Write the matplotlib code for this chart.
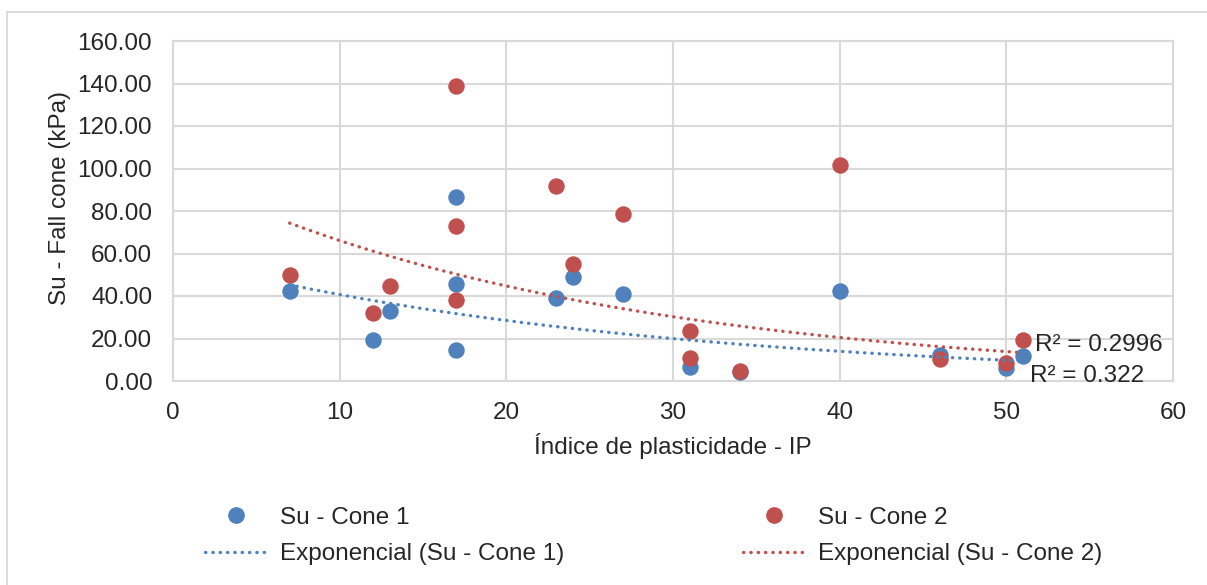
import numpy as np
import matplotlib
matplotlib.use("Agg")
import matplotlib.pyplot as plt
from matplotlib.lines import Line2D
from matplotlib.patches import Rectangle

plt.rcParams["font.family"] = ["Liberation Sans", "DejaVu Sans"]

# Su - Cone 1
ip_cone1 = [7, 12, 13, 17, 17, 17, 23, 24, 27, 31, 34, 40, 46, 50, 51]
su_cone1 = [42.3, 19.4, 33.1, 86.7, 45.6, 14.7, 39.2, 49.0, 40.8, 6.8, 4.2, 42.2, 12.3, 6.2, 11.9]

# Su - Cone 2
ip_cone2 = [7, 12, 13, 17, 17, 17, 23, 24, 27, 31, 31, 34, 40, 46, 50, 51]
su_cone2 = [50.0, 31.9, 44.7, 138.8, 72.9, 38.1, 91.9, 55.0, 78.6, 23.7, 10.6, 4.8, 101.5, 10.5, 8.6, 19.4]

r2_labels = ["R² = 0.2996", "R² = 0.322"]
x_ticks = [0, 10, 20, 30, 40, 50, 60]
y_ticks = [0, 20, 40, 60, 80, 100, 120, 140, 160]

BLUE = "#4F81BD"
RED = "#C0504D"
GRID = "#D9D9D9"
TXT = "#262626"
FS = 17.5


def exp_trend(x, y):
    x = np.asarray(x, float)
    y = np.asarray(y, float)
    b, ln_a = np.polyfit(x, np.log(y), 1)
    xs = np.linspace(x.min(), x.max(), 200)
    return xs, np.exp(ln_a) * np.exp(b * xs)


fig = plt.figure(figsize=(12.07, 5.85), dpi=100)
ax = fig.add_axes([173 / 1207, 1 - 381 / 585, 1000 / 1207, 340 / 585])

# outer chart border
fig.patches.append(Rectangle((7 / 1207, -0.1), 1.2, 1 - 11.5 / 585 + 0.1,
                             transform=fig.transFigure, fill=False,
                             edgecolor=GRID, linewidth=1.3))

ax.scatter(ip_cone1, su_cone1, s=140, color=BLUE, zorder=3, linewidths=0)
ax.scatter(ip_cone2, su_cone2, s=140, color=RED, zorder=3, linewidths=0)

dot = (0, (0.1, 2.1))
TW = 2.4
xs1, ys1 = exp_trend(ip_cone1, su_cone1)
xs2, ys2 = exp_trend(ip_cone2, su_cone2)
ax.plot(xs1, ys1, color=BLUE, lw=TW, linestyle=dot, dash_capstyle="round", zorder=4)
ax.plot(xs2, ys2, color=RED, lw=TW, linestyle=dot, dash_capstyle="round", zorder=4)

ax.text(51.7, 17.0, r2_labels[0], fontsize=FS, va="center", ha="left", color=TXT, zorder=5)
ax.text(51.4, 2.5, r2_labels[1], fontsize=FS, va="center", ha="left", color=TXT, zorder=5)

ax.set_xlim(0, 60)
ax.set_ylim(0, 160)
ax.set_xticks(x_ticks)
ax.set_yticks(y_ticks)
ax.set_yticklabels([f"{v:.2f}" for v in y_ticks])
ax.tick_params(length=0, labelsize=FS, colors=TXT)
ax.tick_params(axis="y", pad=15)
ax.tick_params(axis="x", pad=15)
ax.grid(True, color=GRID, lw=1.5)
ax.set_axisbelow(True)
for sp in ax.spines.values():
    sp.set_color(GRID)
    sp.set_linewidth(1.5)

fig.text(673 / 1207, 1 - 446 / 585, "Índice de plasticidade - IP", fontsize=FS,
         ha="center", va="center", color=TXT)
fig.text(60 / 1207, 1 - 198 / 585, "Su - Fall cone (kPa)", fontsize=FS,
         ha="center", va="center", rotation=90, color=TXT)

# legend, two columns
h1 = [Line2D([], [], marker="o", ls="none", color=BLUE, markersize=11),
      Line2D([], [], color=BLUE, lw=TW, ls=dot, dash_capstyle="round")]
h2 = [Line2D([], [], marker="o", ls="none", color=RED, markersize=11),
      Line2D([], [], color=RED, lw=TW, ls=dot, dash_capstyle="round")]
for handles, labels, x0 in [(h1, ["Su - Cone 1", "Exponencial (Su - Cone 1)"], 183),
                            (h2, ["Su - Cone 2", "Exponencial (Su - Cone 2)"], 721)]:
    fig.legend(handles, labels, loc="center left",
               bbox_to_anchor=(x0 / 1207, 1 - 536 / 585), frameon=False,
               fontsize=FS, handlelength=2.6, handletextpad=0.5,
               labelspacing=0.6, labelcolor=TXT)

fig.savefig("out.png", dpi=100)
